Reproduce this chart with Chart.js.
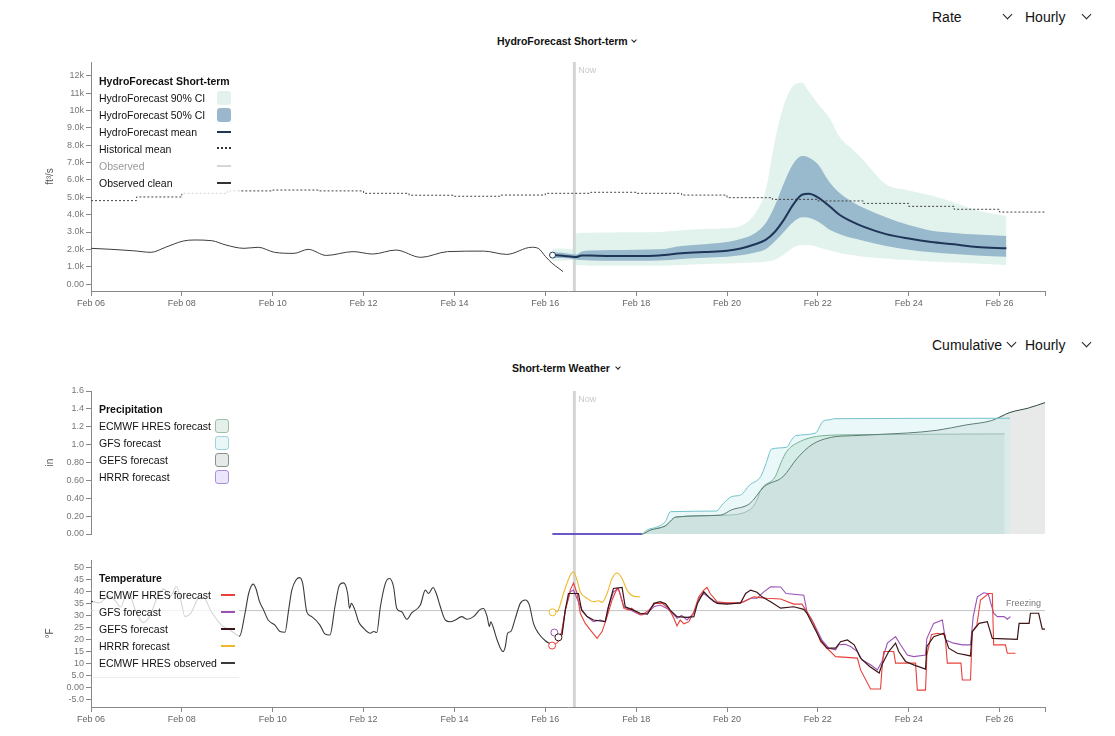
<!DOCTYPE html>
<html>
<head>
<meta charset="utf-8">
<script src="https://cdn.jsdelivr.net/npm/chart.js@4.4.1/dist/chart.umd.min.js"></script>
<style>
  body { margin:0; width:1115px; height:736px; background:#fff; position:relative; overflow:hidden;
         font-family:"Liberation Sans", Arial, sans-serif; color:#111; }
  .pane { position:absolute; left:0; }
  .ctl { position:absolute; font-size:14px; color:#111; line-height:16px; }
  .chev { position:absolute; width:6px; height:6px; border-right:1.4px solid #222; border-bottom:1.4px solid #222; transform:rotate(45deg); }
  .chev.sm { width:3px; height:3px; border-width:1.2px; }
  .head { position:absolute; font-size:10.5px; font-weight:bold; line-height:12px; white-space:nowrap; }
  .legend { position:absolute; background:rgba(255,255,255,0.78); font-size:10.5px; }
  .legend div { position:absolute; white-space:nowrap; line-height:14px; }
  .legend .ttl { font-weight:bold; }
  .sw { position:absolute; }
</style>
</head>
<body>

<!-- top controls -->
<div class="ctl" style="left:932px;top:9px">Rate</div>
<div class="chev" style="left:1004px;top:11px"></div>
<div class="ctl" style="left:1025px;top:9px">Hourly</div>
<div class="chev" style="left:1083px;top:11px"></div>
<div class="head" style="left:497px;top:35px">HydroForecast Short-term</div>
<div class="chev sm" style="left:632px;top:38px"></div>

<div class="ctl" style="left:932px;top:337px">Cumulative</div>
<div class="chev" style="left:1008px;top:339px"></div>
<div class="ctl" style="left:1025px;top:337px">Hourly</div>
<div class="chev" style="left:1083px;top:339px"></div>
<div class="head" style="left:512px;top:362px">Short-term Weather</div>
<div class="chev sm" style="left:616px;top:365px"></div>

<div class="pane" style="top:0;width:1115px;height:320px"><canvas id="flow" width="1115" height="320"></canvas></div>
<div class="pane" style="top:380px;width:1115px;height:180px"><canvas id="precip" width="1115" height="180"></canvas></div>
<div class="pane" style="top:545px;width:1115px;height:191px"><canvas id="temp" width="1115" height="191"></canvas></div>

<!-- legends -->
<div class="legend" style="left:93px;top:70px;width:146px;height:124px">
  <div class="ttl" style="left:6px;top:4px">HydroForecast Short-term</div>
  <div style="left:6px;top:21px">HydroForecast 90% CI</div>
  <div class="sw" style="left:124px;top:21px;width:14px;height:14px;border-radius:3px;background:#e3f2ef"></div>
  <div style="left:6px;top:38px">HydroForecast 50% CI</div>
  <div class="sw" style="left:124px;top:38px;width:14px;height:14px;border-radius:3px;background:#9cb7cd"></div>
  <div style="left:6px;top:55px">HydroForecast mean</div>
  <div class="sw" style="left:124px;top:61px;width:14px;height:2px;background:#1f3557"></div>
  <div style="left:6px;top:72px">Historical mean</div>
  <div class="sw" style="left:124px;top:77px;width:14px;height:0;border-top:2px dotted #333"></div>
  <div style="left:6px;top:89px;color:#999">Observed</div>
  <div class="sw" style="left:124px;top:95px;width:14px;height:2px;background:#d6d6d6"></div>
  <div style="left:6px;top:106px">Observed clean</div>
  <div class="sw" style="left:124px;top:112px;width:14px;height:2px;background:#333"></div>
</div>

<div class="legend" style="left:93px;top:398px;width:144px;height:88px">
  <div class="ttl" style="left:6px;top:4px">Precipitation</div>
  <div style="left:6px;top:21px">ECMWF HRES forecast</div>
  <div class="sw" style="left:122px;top:21px;width:12px;height:12px;border-radius:3px;background:#e6f0ea;border:1px solid #9fbfaa"></div>
  <div style="left:6px;top:38px">GFS forecast</div>
  <div class="sw" style="left:122px;top:38px;width:12px;height:12px;border-radius:3px;background:#eaf7f8;border:1px solid #9fd4d7"></div>
  <div style="left:6px;top:55px">GEFS forecast</div>
  <div class="sw" style="left:122px;top:55px;width:12px;height:12px;border-radius:3px;background:#e5e9e7;border:1px solid #8a918d"></div>
  <div style="left:6px;top:72px">HRRR forecast</div>
  <div class="sw" style="left:122px;top:72px;width:12px;height:12px;border-radius:3px;background:#ece6fb;border:1px solid #a890e0"></div>
</div>

<div class="legend" style="left:93px;top:567px;width:146px;height:110px;border-bottom:1px solid #eee">
  <div class="ttl" style="left:6px;top:4px">Temperature</div>
  <div style="left:6px;top:21px">ECMWF HRES forecast</div>
  <div class="sw" style="left:128px;top:27px;width:14px;height:2px;background:#e8413c"></div>
  <div style="left:6px;top:38px">GFS forecast</div>
  <div class="sw" style="left:128px;top:44px;width:14px;height:2px;background:#9c52b5"></div>
  <div style="left:6px;top:55px">GEFS forecast</div>
  <div class="sw" style="left:128px;top:61px;width:14px;height:2px;background:#3b1518"></div>
  <div style="left:6px;top:72px">HRRR forecast</div>
  <div class="sw" style="left:128px;top:78px;width:14px;height:2px;background:#efb92e"></div>
  <div style="left:6px;top:89px">ECMWF HRES observed</div>
  <div class="sw" style="left:128px;top:95px;width:14px;height:2px;background:#3a3a3a"></div>
</div>

<script>
// ====== data (x = days since Feb 06 00:00) ======
const nowDay = 10.64;
const dayTicks = [0,2,4,6,8,10,12,14,16,18,20,21];
const flowTicks = [0,1000,2000,3000,4000,5000,6000,7000,8000,9000,10000,11000,12000];
const precipTicks = [0,0.2,0.4,0.6,0.8,1.0,1.2,1.4,1.6];
const tempTicks = [-5,0,5,10,15,20,25,30,35,40,45,50];

// streamflow, ft3/s
const obsDays = [0,0.46,0.93,1.32,1.64,2.03,2.27,2.66,2.97,3.37,3.68,4.04,4.47,4.78,5.18,5.77,6.2,6.71,7.26,7.85,8.64,9.15,9.7,9.85,10.0,10.15,10.3,10.39];
const observedClean = [2060,2000,1920,1830,2120,2480,2540,2500,2250,2060,2120,1830,1770,2000,1650,1870,1730,1960,1540,1870,1900,1710,2120,2050,1600,1200,900,720];

const histDays = [0,1,2,3,4,5,6,7,8,9,10,11,12,13,14,15,16,17,18,19,20,21];
const historicalMean = [4810,5020,5230,5370,5420,5370,5230,5120,5060,5130,5230,5290,5230,5130,4980,4880,4790,4650,4480,4310,4150,4150];

const fcDays = [10.16,10.38,10.6,10.68,10.8,11.0,11.5,12.0,12.5,13.0,13.5,14.0,14.3,14.6,14.85,15.05,15.25,15.45,15.65,15.8,16.0,16.25,16.5,16.75,17.0,17.5,18.0,18.5,19.0,19.5,20.15];
const fcMean = [1670,1630,1570,1560,1650,1640,1620,1620,1650,1770,1850,1920,2050,2280,2550,3000,3700,4550,5150,5200,5000,4500,3950,3600,3310,2880,2620,2420,2290,2140,2060];
const ci50Hi = [1830,1800,1720,1700,1880,1930,1960,1980,2000,2200,2300,2420,2600,2900,3500,4500,5800,6900,7380,7300,6900,5900,5200,4750,4400,3850,3400,3080,2950,2850,2770];
const ci50Lo = [1520,1500,1450,1420,1380,1360,1350,1350,1360,1450,1520,1580,1660,1800,2000,2450,3000,3550,3850,3820,3600,3150,2850,2650,2500,2200,1980,1830,1730,1650,1580];
const ci90Hi = [2050,2050,2000,2920,2950,2960,2970,2980,3000,3100,3180,3220,3350,4000,5400,8200,10300,11400,11600,11100,10400,9600,8400,7800,7150,5750,5400,5100,4700,4250,3920];
const ci90Lo = [1350,1350,1380,1100,1080,1060,1060,1060,1060,1100,1150,1190,1220,1250,1290,1400,1700,2100,2250,2250,2120,1950,1780,1680,1580,1480,1380,1300,1240,1190,1100];

// cumulative precipitation, in
const hrrrPDays = [10.16,12.12];
const hrrrPrecip = [0,0];
const gfsPDays = [10.16,12.12,12.24,12.48,12.64,12.76,13.77,13.89,14.1,14.3,14.5,14.74,14.86,14.98,15.31,15.43,15.51,15.95,16.11,16.28,16.36,20.23];
const gfsPrecip = [0,0,0.045,0.082,0.138,0.25,0.257,0.325,0.418,0.437,0.549,0.642,0.79,0.95,0.97,1.06,1.10,1.13,1.26,1.28,1.29,1.295];
const ecmwfPDays = [10.16,12.12,12.32,12.64,12.88,13.93,14.5,14.66,14.74,15.06,15.19,15.31,15.55,16.11,16.76,20.11];
const ecmwfPrecip = [0,0,0.045,0.09,0.19,0.21,0.27,0.38,0.49,0.64,0.8,0.92,1.02,1.10,1.11,1.12];
const gefsPDays = [10.16,12.12,12.32,12.64,12.88,13.85,14.1,14.5,14.82,15.23,15.55,15.87,16.28,16.76,17.97,18.62,19.26,19.83,20.23,20.64,21.0];
const gefsPrecip = [0,0,0.045,0.09,0.19,0.21,0.27,0.34,0.53,0.64,0.85,1.0,1.08,1.10,1.13,1.16,1.22,1.27,1.36,1.41,1.47];

// temperature, F
const freezingDays = [0,21];
const freezingLine = [32,32];
const obsTDays = [0,0.18,0.38,0.54,0.65,0.81,1.0,1.16,1.3,1.45,1.6,1.75,1.88,1.97,2.07,2.2,2.36,2.47,2.65,2.87,3.05,3.16,3.27,
  3.39,3.47,3.57,3.63,3.71,3.8,3.9,4.05,4.16,4.27,4.35,4.42,4.52,4.59,4.66,4.75,4.86,5.04,5.15,5.26,5.37,5.47,5.56,5.65,5.69,5.73,5.81,5.89,6.0,6.15,6.22,6.29,
  6.37,6.48,6.57,6.66,6.73,6.84,6.95,7.06,7.25,7.36,7.43,7.53,7.6,7.69,7.8,7.91,8.02,8.16,8.28,8.42,8.57,8.64,8.72,8.77,8.8,8.85,8.94,9.07,9.12,9.17,9.24,
  9.34,9.45,9.56,9.65,9.74,9.85,10.0,10.15];
const observedTemp = [35.9,35.2,38,36,33.5,40,31,27,30,37,41,38,42,37,29.5,31,37,37.6,31.5,26,24,22.6,21.4,
  30.9,39.1,43,41.2,35.7,32.2,28.1,26,23.3,23,32.2,40.5,44.9,45.7,43.3,31.5,29.5,26,22.3,21.9,33.6,42.6,43.5,39.1,32.9,35,32.2,27.4,24.7,22.6,23.3,22.9,
  33.6,43.3,45.3,41.9,32.9,31.5,28.4,31.1,34.3,40.5,39.1,41.6,39.1,33.6,28.1,27.4,28.1,29.5,28.4,29.5,32.5,32.9,29.5,25.3,27.4,25.3,19.8,15,17.1,22.6,23.3,
  28.8,35,36.4,34.3,26.7,22.6,19.5,17.8];

const hrrrTDays = [10.16,10.26,10.4,10.55,10.62,10.7,10.77,10.92,11.06,11.17,11.25,11.36,11.47,11.58,11.69,11.8,11.94,12.09];
const hrrrTemp = [31.3,31.5,39.1,46.7,48.1,44.6,39.8,37.1,35.7,36.1,35.4,39.1,45.3,47.6,45.3,40.5,38,37.7];

const ecmwfTDays = [10.15,10.25,10.33,10.44,10.55,10.62,10.7,10.77,10.88,10.99,11.14,11.25,11.36,11.47,11.58,11.63,11.73,11.84,11.9,12.02,12.13,12.28,12.42,12.57,12.72,12.83,12.9,12.97,13.05,13.16,13.27,13.38,13.49,13.56,13.63,13.78,14.0,14.3,14.44,14.59,14.73,14.88,15.18,15.47,15.65,15.76,15.91,16.06,16.17,16.39,16.87,16.94,17.16,17.38,17.41,17.45,17.67,17.71,18.15,18.19,18.37,18.4,18.5,18.63,18.8,18.85,19.15,19.18,19.36,19.4,19.5,19.58,19.76,19.84,19.87,20.13,20.17,20.35];
const ecmwfTemp = [17.5,18.5,20,32.2,40.5,43.5,39.1,30.9,26.7,24,20.5,23.3,29.5,36.4,41.2,40,32.9,32.2,33,31.1,30.2,32.2,35,35,32.9,28.8,25.6,28.1,26.5,27.4,31.5,37.7,40.5,41.6,39.1,35.7,35.2,35.2,36.4,37.7,37.4,37.1,36.8,34.7,34.7,31.5,26.7,19.1,17,12.9,12.3,7.4,-0.5,-0.5,7.4,15,15,10.2,10.2,-1,-1,13.6,22,22.6,21.9,10.2,10.2,3.2,3.2,23.3,26,36.4,39.1,39.1,17.8,17.8,14.3,14.3];

const gfsTDays = [10.2,10.3,10.37,10.44,10.55,10.62,10.7,10.81,10.92,11.06,11.21,11.32,11.39,11.5,11.61,11.73,11.85,12.09,12.24,12.39,12.53,12.68,12.83,12.9,13.0,13.12,13.27,13.38,13.49,13.6,13.71,13.93,14.22,14.37,14.52,14.66,14.81,14.96,15.18,15.3,15.69,15.76,15.87,15.98,16.09,16.24,16.39,16.46,16.6,16.72,16.87,16.97,17.16,17.31,17.41,17.53,17.71,17.82,17.97,18.11,18.37,18.4,18.55,18.74,18.81,18.99,19.18,19.36,19.42,19.51,19.65,19.75,19.87,19.95,20.1,20.17,20.24];
const gfsTemp = [22.9,21.5,23,32.2,39.8,40.5,37,32.2,29.5,27.4,28.1,27.4,33.6,39.8,41.2,33.6,32.5,30.2,30.9,33.6,34.3,32.9,30.2,28.8,30,28.1,30.9,37.1,39.1,37.5,35.7,35,35,35.7,37.1,37.1,39.8,41.9,41.8,39.1,38.4,31.5,28.1,24,19.8,16.4,15.7,17.8,18,17.1,15,11.6,9.5,7.4,10.9,18.5,21.2,17.8,13.6,12.9,13.6,20.5,26.7,28.1,19.8,18.5,17.8,17.8,29.5,37.7,39.4,39,30.9,29.5,29.5,28.4,29.5];

const gefsTDays = [10.29,10.37,10.44,10.51,10.73,10.8,10.92,11.06,11.32,11.39,11.5,11.69,11.76,11.9,12.09,12.25,12.39,12.53,12.65,12.75,12.9,13.12,13.27,13.35,13.49,13.63,13.78,14.0,14.3,14.41,14.52,14.66,14.77,14.96,15.18,15.47,15.69,15.76,15.91,16.06,16.2,16.39,16.5,16.65,16.8,16.94,17.14,17.35,17.41,17.56,17.71,17.78,17.93,18.11,18.37,18.4,18.55,18.77,18.88,19.07,19.36,19.4,19.55,19.73,19.84,20.39,20.43,20.65,20.68,20.86,20.94,21.0];
const gefsTemp = [20.9,22,32.2,39.1,39.1,32.2,29.5,28.1,27.4,33.6,41.2,41.6,33.6,32.5,30.9,30.5,35,35.7,34.8,32.2,29.5,29.2,29.5,35,39.8,37.1,35,34.7,35.2,39.1,40.5,39.6,37.7,35.7,33,33.6,32.5,30.9,25.3,19.8,16.4,16.4,19.1,19.8,17.8,12.3,8.8,6.1,9.5,15,18.5,15,10.9,9.5,7.7,17.1,21.2,22.6,16.4,14.3,13.2,23.3,26.7,27.4,20.5,20.1,26.7,26.7,30.9,30.9,24.3,24.3];

// ====== helpers ======
function pts(xs, ys) { return xs.map((x, i) => ({x: x, y: ys[i]})); }

function fmt(v) {
  if (v === 0) return "0.00";
  if (Math.abs(v) >= 1000) return (v / 1000).toPrecision(2) + "k";
  return Number(v).toPrecision(2);
}
function dayLabel(v) {
  if (v % 2 !== 0) return "";
  const d = 6 + v;
  return "Feb " + (d < 10 ? "0" + d : d);
}

const FONT = "'Liberation Sans', Arial, sans-serif";

const nowLine = {
  id: "nowLine",
  beforeDatasetsDraw(chart, args, opts) {
    const ctx = chart.ctx, area = chart.chartArea;
    const x = chart.scales.x.getPixelForValue(nowDay);
    ctx.save();
    ctx.strokeStyle = "rgba(205,205,205,0.85)";
    ctx.lineWidth = 3;
    ctx.beginPath();
    ctx.moveTo(x, area.top);
    ctx.lineTo(x, opts.toEdge ? chart.height : area.bottom);
    ctx.stroke();
    if (opts.label) {
      ctx.fillStyle = "#c9c9c9";
      ctx.font = "9px " + FONT;
      ctx.textBaseline = "top";
      ctx.fillText("Now", x + 4, area.top + 4);
    }
    ctx.restore();
  }
};

const freezingLabel = {
  id: "freezingLabel",
  afterDatasetsDraw(chart) {
    const ctx = chart.ctx;
    const y = chart.scales.y.getPixelForValue(32);
    ctx.save();
    ctx.fillStyle = "#777";
    ctx.font = "9px " + FONT;
    ctx.textAlign = "right";
    ctx.textBaseline = "bottom";
    ctx.fillText("Freezing", chart.chartArea.right - 4, y - 3);
    ctx.restore();
  }
};

function xScale(show) {
  const s = {
    type: "linear", min: 0, max: 21, display: show,
    afterBuildTicks: sc => { sc.ticks = dayTicks.map(v => ({value: v})); },
    grid: { display: true, drawOnChartArea: false, drawTicks: true, tickLength: 5, color: "#888" },
    border: { display: true, color: "#888" },
    ticks: { maxRotation: 0, autoSkip: false, color: "#666", font: { size: 9, family: FONT }, padding: 2,
             callback: v => dayLabel(v) }
  };
  if (show) s.afterFit = sc => { sc.height = 29; };
  return s;
}
function yScale(min, max, tickVals, title) {
  return {
    type: "linear", min: min, max: max,
    afterFit: s => { s.width = 51; },
    afterBuildTicks: s => { s.ticks = tickVals.map(v => ({value: v})); },
    grid: { display: true, drawOnChartArea: false, drawTicks: true, tickLength: 5, color: "#888" },
    border: { display: true, color: "#888" },
    ticks: { autoSkip: false, color: "#777", font: { size: 9, family: FONT }, padding: 2,
             callback: v => fmt(v) },
    title: { display: true, text: title, color: "#555", font: { size: 10, family: FONT }, padding: { top: 4, bottom: 0 } }
  };
}
const baseOpts = {
  responsive: false, animation: false, events: [],
  plugins: { legend: { display: false }, tooltip: { enabled: false } },
  elements: { point: { radius: 0 }, line: { borderWidth: 1.2 } }
};

// ====== streamflow chart ======
new Chart(document.getElementById("flow"), {
  type: "line",
  data: { datasets: [
    { label: "HydroForecast mean", data: pts(fcDays, fcMean), borderColor: "#1f3557", borderWidth: 2,
      cubicInterpolationMode: "monotone", order: 1, fill: false,
      pointRadius: c => c.dataIndex === 0 ? 3 : 0, pointBackgroundColor: "#fff", pointBorderColor: "#1f3557", pointBorderWidth: 1 },
    { label: "Observed clean", data: pts(obsDays, observedClean), borderColor: "#3d3d3d", borderWidth: 1,
      cubicInterpolationMode: "monotone", order: 2, fill: false },
    { label: "Historical mean", data: pts(histDays, historicalMean), borderColor: "#444", borderWidth: 1,
      borderDash: [2, 2], stepped: "before", order: 3, fill: false },
    { label: "50% CI hi", data: pts(fcDays, ci50Hi), borderWidth: 0, borderColor: "rgba(0,0,0,0)",
      backgroundColor: "rgba(110,150,185,0.62)", fill: "+1", cubicInterpolationMode: "monotone", order: 4 },
    { label: "50% CI lo", data: pts(fcDays, ci50Lo), borderWidth: 0, borderColor: "rgba(0,0,0,0)",
      fill: false, cubicInterpolationMode: "monotone", order: 5 },
    { label: "90% CI hi", data: pts(fcDays, ci90Hi), borderWidth: 0, borderColor: "rgba(0,0,0,0)",
      backgroundColor: "rgba(190,226,216,0.45)", fill: "+1", cubicInterpolationMode: "monotone", order: 6 },
    { label: "90% CI lo", data: pts(fcDays, ci90Lo), borderWidth: 0, borderColor: "rgba(0,0,0,0)",
      fill: false, cubicInterpolationMode: "monotone", order: 7 }
  ]},
  options: Object.assign({}, baseOpts, {
    layout: { padding: { top: 62, left: 40, right: 70, bottom: 0 } },
    scales: { x: xScale(true), y: yScale(-400, 12800, flowTicks, "ft³/s") },
    plugins: Object.assign({}, baseOpts.plugins, { nowLine: { label: true } })
  }),
  plugins: [nowLine]
});

// ====== precipitation chart ======
new Chart(document.getElementById("precip"), {
  type: "line",
  data: { datasets: [
    { label: "HRRR forecast", data: pts(hrrrPDays, hrrrPrecip), borderColor: "#6a3bd8", borderWidth: 1.5, order: 1, fill: false, clip: 4 },
    { label: "GFS forecast", data: pts(gfsPDays, gfsPrecip), borderColor: "#73c2c9", borderWidth: 1, clip: 4,
      backgroundColor: "rgba(190,232,235,0.32)", fill: "origin", cubicInterpolationMode: "monotone", order: 2 },
    { label: "GEFS forecast", data: pts(gefsPDays, gefsPrecip), borderColor: "#2f4b3e", borderWidth: 1, clip: 4,
      backgroundColor: "rgba(200,205,202,0.42)", fill: "origin", cubicInterpolationMode: "monotone", order: 3 },
    { label: "ECMWF HRES forecast", data: pts(ecmwfPDays, ecmwfPrecip), borderColor: "#5a946a", borderWidth: 1, clip: 4,
      backgroundColor: "rgba(170,210,185,0.38)", fill: "origin", cubicInterpolationMode: "monotone", order: 4 }
  ]},
  options: Object.assign({}, baseOpts, {
    layout: { padding: { top: 11, left: 40, right: 70, bottom: 26 } },
    scales: { x: xScale(false), y: yScale(0, 1.6, precipTicks, "in") },
    plugins: Object.assign({}, baseOpts.plugins, { nowLine: { label: true, toEdge: true } })
  }),
  plugins: [nowLine]
});

// ====== temperature chart ======
const startPt = c => c.dataIndex === 0 ? 3.5 : 0;
new Chart(document.getElementById("temp"), {
  type: "line",
  data: { datasets: [
    { label: "Freezing", data: pts(freezingDays, freezingLine), borderColor: "#c4c4c4", borderWidth: 1, order: 10, fill: false },
    { label: "ECMWF HRES observed", data: pts(obsTDays, observedTemp), borderColor: "#3a3a3a", borderWidth: 1.1,
      cubicInterpolationMode: "monotone", order: 6, fill: false },
    { label: "HRRR forecast", data: pts(hrrrTDays, hrrrTemp), borderColor: "#efb92e", borderWidth: 1.1,
      cubicInterpolationMode: "monotone", order: 5, fill: false,
      pointRadius: startPt, pointBackgroundColor: "#fff", pointBorderColor: "#efb92e", pointBorderWidth: 1 },
    { label: "GFS forecast", data: pts(gfsTDays, gfsTemp), borderColor: "#9c52b5", borderWidth: 1.1, order: 4, fill: false,
      pointRadius: startPt, pointBackgroundColor: "#fff", pointBorderColor: "#9c52b5", pointBorderWidth: 1 },
    { label: "ECMWF HRES forecast", data: pts(ecmwfTDays, ecmwfTemp), borderColor: "#e8413c", borderWidth: 1.1, order: 3, fill: false,
      pointRadius: startPt, pointBackgroundColor: "#fff", pointBorderColor: "#e8413c", pointBorderWidth: 1 },
    { label: "GEFS forecast", data: pts(gefsTDays, gefsTemp), borderColor: "#3b1518", borderWidth: 1.2, order: 2, fill: false,
      pointRadius: startPt, pointBackgroundColor: "#fff", pointBorderColor: "#3b1518", pointBorderWidth: 1 }
  ]},
  options: Object.assign({}, baseOpts, {
    layout: { padding: { top: 15, left: 40, right: 70, bottom: 0 } },
    scales: { x: xScale(true), y: yScale(-8, 53, tempTicks, "°F") },
    plugins: Object.assign({}, baseOpts.plugins, { nowLine: { label: false } })
  }),
  plugins: [nowLine, freezingLabel]
});
</script>
</body>
</html>
